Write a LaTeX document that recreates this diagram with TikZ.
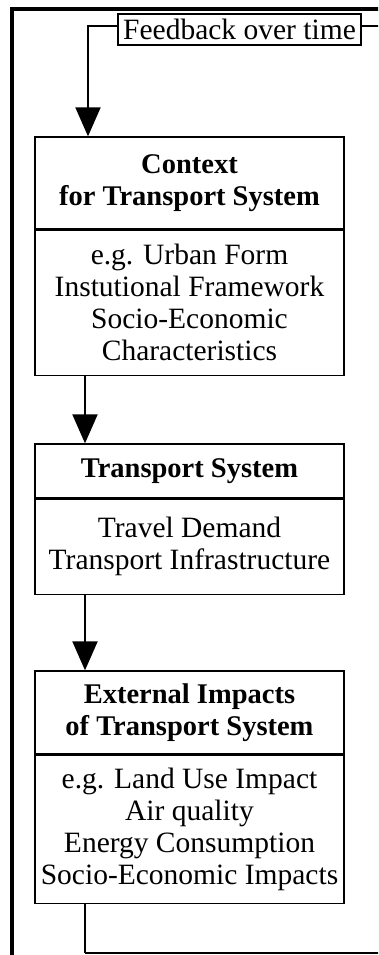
\documentclass[tikz,border=0pt]{standalone}
\usepackage{fontspec}
\setmainfont{Liberation Serif}
\usetikzlibrary{arrows.meta, positioning}

\begin{document}
\begin{tikzpicture}[x=1pt, y=-1pt,
  part/.style={draw, line width=1.3, minimum width=309pt, inner sep=0pt, align=center, font=\fontsize{29.5}{32}\selectfont},
  headpart/.style={part, font=\fontsize{28.5}{32}\selectfont\bfseries},
  flow/.style={line width=2, -{Triangle[length=29pt, width=25pt]}},
  plain/.style={line width=2}]
\useasboundingbox (0,0) rectangle (378,955);
\clip (0,0) rectangle (378,955);
%Frame
\draw [line width=4] (12,965) -- (12,9.5) -- (385,9.5);
%Boxes
\node [headpart, minimum height=92pt] (ctxHead) at (189.5,183) {Context\\for Transport System};
\node [part, minimum height=145pt, below=0pt of ctxHead] (ctxBody) {e.g. Urban Form\\Instutional Framework\\Socio-Economic\\Characteristics};
\node [headpart, minimum height=54pt] (tsHead) at (189.5,471) {Transport System};
\node [part, minimum height=95pt, below=0pt of tsHead] (tsBody) {Travel Demand\\Transport Infrastructure};
\node [headpart, minimum height=83pt] (impHead) at (189.5,712.5) {External Impacts\\of Transport System};
\node [part, minimum height=148pt, below=0pt of impHead] (impBody) {e.g. Land Use Impact\\Air quality\\Energy Consumption\\Socio-Economic Impacts};
\node [draw, line width=2, minimum width=243pt, minimum height=31pt, inner sep=0pt, font=\fontsize{29.5}{30}\selectfont] (fb) at (239.5,29.5) {Feedback over time};
%Connectors
\coordinate (fbturn) at (88,26);
\coordinate (fbout) at (385,26);
\coordinate (col) at (85,0);
\coordinate (botturn) at (85,953);
\coordinate (botout) at (385,953);
\draw [plain] (fb.east |- fbout) -- (fbout);
\draw [flow] (fb.west |- fbturn) -- (fbturn) -- (ctxHead.north -| fbturn);
\draw [flow] (ctxBody.south -| col) -- (tsHead.north -| col);
\draw [flow] (tsBody.south -| col) -- (impHead.north -| col);
\draw [plain] (impBody.south -| col) -- (botturn);
\draw [line width=1.3] (botturn) -- (botout);
\end{tikzpicture}
\end{document}
